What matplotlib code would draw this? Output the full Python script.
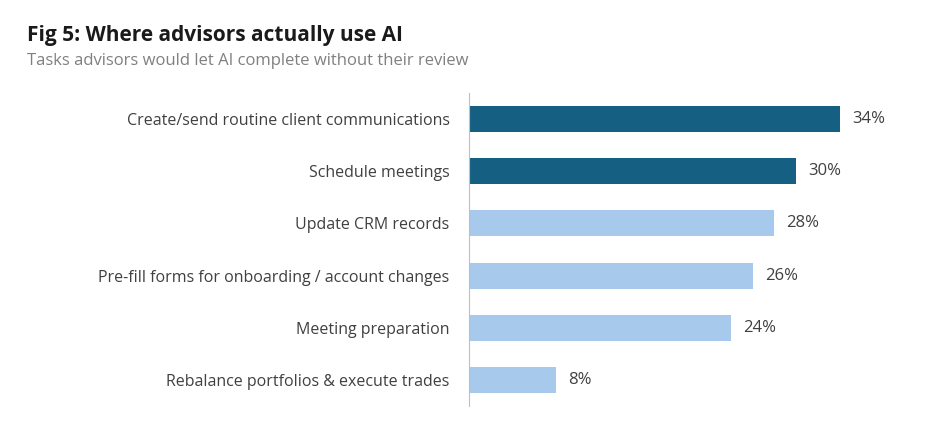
import matplotlib
matplotlib.use("agg")
import matplotlib.pyplot as plt

tasks = ["Create/send routine client communications", "Schedule meetings",
         "Update CRM records", "Pre-fill forms for onboarding / account changes",
         "Meeting preparation", "Rebalance portfolios & execute trades"]
values = [34, 30, 28, 26, 24, 8]
highlight = [True, True, False, False, False, False]

dark = "#155f83"
light = "#a7c9ec"

plt.rcParams["font.family"] = ["Open Sans", "DejaVu Sans"]
fig = plt.figure(figsize=(9.4, 4.21), dpi=100)
ax = fig.add_axes([469 / 940, 15 / 421, 451 / 940, 313 / 421])

ypos = list(range(len(tasks)))
colors = [dark if h else light for h in highlight]
ax.barh(ypos, values, height=0.5, color=colors)
for y, v in zip(ypos, values):
    ax.text(v + 1.1, y, "%d%%" % v, va="center", ha="left", fontsize=12, color="#404040")

ax.set_ylim(len(tasks) - 0.5, -0.5)
ax.set_xlim(0, 451 / 10.91)
ax.set_yticks(ypos)
ax.set_yticklabels(tasks, fontsize=11.5, color="#404040")
ax.tick_params(axis="y", length=0, pad=14)
ax.set_xticks([])
for s in ["top", "right", "bottom"]:
    ax.spines[s].set_visible(False)
ax.spines["left"].set_color("#bfbfbf")

fig.text(27 / 940, 1 - 35 / 421, "Fig 5: Where advisors actually use AI",
         fontsize=15, fontweight="bold", color="#1a1a1a", va="center")
fig.text(27 / 940, 1 - 61 / 421, "Tasks advisors would let AI complete without their review",
         fontsize=12, color="#808080", va="center")

fig.savefig("out.png", dpi=100)
